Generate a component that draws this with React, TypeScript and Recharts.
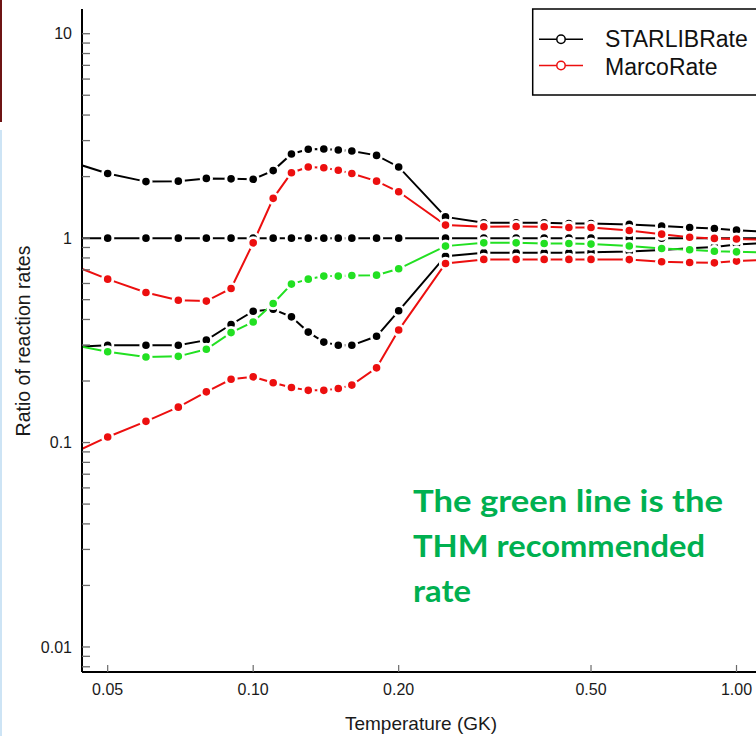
import React from "react";
import { LineChart, Line, XAxis, YAxis, Customized } from "recharts";

// Temperature grid (GK); first and last points lie just outside the visible window
const temps = [0.04, 0.05, 0.06, 0.07, 0.08, 0.09, 0.1, 0.11, 0.12, 0.13, 0.14, 0.15, 0.16, 0.18, 0.2, 0.25, 0.3, 0.35, 0.4, 0.45, 0.5, 0.6, 0.7, 0.8, 0.9, 1.0, 1.25];

const starlibHigh = [2.45, 2.07, 1.89, 1.9, 1.96, 1.95, 1.94, 2.14, 2.58, 2.72, 2.73, 2.7, 2.67, 2.54, 2.23, 1.27, 1.19, 1.19, 1.19, 1.18, 1.18, 1.167, 1.145, 1.128, 1.115, 1.094, 1.06];
const starlibMid = [1, 1, 1, 1, 1, 1, 1, 1, 1, 1, 1, 1, 1, 1, 1, 1, 1, 1, 1, 1, 1, 1, 1, 1, 1, 1, 1];
const starlibLow = [0.292, 0.299, 0.299, 0.299, 0.317, 0.378, 0.439, 0.449, 0.412, 0.347, 0.31, 0.299, 0.299, 0.331, 0.441, 0.816, 0.848, 0.848, 0.848, 0.848, 0.854, 0.86, 0.874, 0.893, 0.906, 0.93, 0.96];
const marcoHigh = [0.777, 0.63, 0.542, 0.497, 0.492, 0.567, 0.948, 1.565, 2.09, 2.23, 2.21, 2.15, 2.07, 1.9, 1.686, 1.158, 1.136, 1.14, 1.136, 1.128, 1.128, 1.09, 1.046, 1.01, 0.997, 0.99, 0.98];
const marcoLow = [0.0835, 0.1065, 0.127, 0.149, 0.177, 0.204, 0.2096, 0.196, 0.186, 0.18, 0.18, 0.1837, 0.191, 0.232, 0.355, 0.752, 0.787, 0.787, 0.787, 0.787, 0.787, 0.785, 0.766, 0.76, 0.757, 0.772, 0.79];
const thmRate = [0.308, 0.278, 0.262, 0.264, 0.286, 0.345, 0.389, 0.479, 0.596, 0.63, 0.652, 0.652, 0.657, 0.659, 0.708, 0.914, 0.948, 0.948, 0.942, 0.942, 0.935, 0.915, 0.89, 0.878, 0.862, 0.857, 0.85];

const xTicks = [0.05, 0.1, 0.2, 0.5, 1.0];
const xTickLabels = ["0.05", "0.10", "0.20", "0.50", "1.00"];
const yMajorTicks = [0.01, 0.1, 1, 10];
const yMajorLabels = ["0.01", "0.1", "1", "10"];
const yMinorTicks = [
  0.008, 0.009,
  0.02, 0.03, 0.04, 0.05, 0.06, 0.07, 0.08, 0.09,
  0.2, 0.3, 0.4, 0.5, 0.6, 0.7, 0.8, 0.9,
  2, 3, 4, 5, 6, 7, 8, 9,
];

const xDomain = [0.04424, 1.0973];
const yDomain = [0.007543, 13.21];

const rows = temps.map((T, i) => ({
  T,
  sHigh: starlibHigh[i],
  sMid: starlibMid[i],
  sLow: starlibLow[i],
  mHigh: marcoHigh[i],
  mLow: marcoLow[i],
  thm: thmRate[i],
}));

const FONT = "'Liberation Sans', Arial, Helvetica, sans-serif";
const BLACK = "#000000";
const RED = "#ec0f0f";
const GREEN = "#22e022";

const YTick = (props: any) => {
  const { x, y, payload } = props;
  const v = payload.value;
  const idx = yMajorTicks.findIndex((m) => Math.abs(m - v) < 1e-9);
  return (
    <g>
      <line x1={x} x2={x + 8} y1={y} y2={y} stroke="#6a6a6a" strokeWidth={1.3} />
      {idx >= 0 && (
        <text x={x - 10} y={y} dy="0.36em" textAnchor="end" fontSize={16} fontFamily={FONT} fill="#1a1a1a">
          {yMajorLabels[idx]}
        </text>
      )}
    </g>
  );
};

const XTick = (props: any) => {
  const { x, y, payload } = props;
  const idx = xTicks.findIndex((m) => Math.abs(m - payload.value) < 1e-9);
  return (
    <g>
      <line x1={x} x2={x} y1={y} y2={y - 7} stroke="#6a6a6a" strokeWidth={1.2} />
      <text x={x} y={y + 23} textAnchor="middle" fontSize={16} fontFamily={FONT} fill="#1a1a1a">
        {idx >= 0 ? xTickLabels[idx] : ""}
      </text>
    </g>
  );
};

const Decor = () => (
  <g>
    <text x={421} y={730} textAnchor="middle" fontSize={19} fontFamily={FONT} fill="#1a1a1a">
      Temperature (GK)
    </text>
    <text
      x={0}
      y={0}
      transform="translate(30,341) rotate(-90)"
      textAnchor="middle"
      fontSize={19.5}
      fontFamily={FONT}
      fill="#1a1a1a"
    >
      Ratio of reaction rates
    </text>
    {/* legend box */}
    <rect x={532.7} y={9} width={240} height={86} fill="#fff" stroke="#000" strokeWidth={1.5} />
    <line x1={539} x2={583} y1={39.3} y2={39.3} stroke={BLACK} strokeWidth={1.5} />
    <circle cx={561} cy={39.3} r={4.2} fill="#fff" stroke={BLACK} strokeWidth={1.5} />
    <text x={605} y={47} fontSize={23} fontFamily={FONT} fill="#111">STARLIBRate</text>
    <line x1={539} x2={583} y1={65.5} y2={65.5} stroke={RED} strokeWidth={1.5} />
    <circle cx={561} cy={65.5} r={4.2} fill="#fff" stroke={RED} strokeWidth={1.5} />
    <text x={605} y={75} fontSize={23} fontFamily={FONT} fill="#111">MarcoRate</text>
    {/* annotation */}
    <g fontFamily="Lato, 'DejaVu Sans', sans-serif" fontWeight={700} fontSize={30} fill="#00b050">
      <text x={413} y={512} textLength={310} lengthAdjust="spacingAndGlyphs">The green line is the</text>
      <text x={413} y={557} textLength={292} lengthAdjust="spacingAndGlyphs">THM recommended</text>
      <text x={413} y={602} textLength={58} lengthAdjust="spacingAndGlyphs">rate</text>
    </g>
  </g>
);

const dotStyle = (c: string) => ({ r: 5.2, fill: c, stroke: "#ffffff", strokeWidth: 2.8 });

export default function App() {
  return (
    <div style={{ position: "absolute", left: 0, top: 0, width: 756, height: 736, overflow: "hidden", background: "#fff" }}>
      <div style={{ position: "absolute", left: 0, top: 0, width: 2, height: 122, background: "#6e1414" }} />
      <div style={{ position: "absolute", left: 0, top: 130, width: 2, height: 606, background: "#cde4f5" }} />
      <LineChart
        width={756}
        height={736}
        data={rows}
        margin={{ top: 9, right: 0, left: 0, bottom: 0 }}
        style={{ fontFamily: FONT }}
      >
        <XAxis
          dataKey="T"
          type="number"
          scale="log"
          domain={xDomain}
          allowDataOverflow
          ticks={xTicks}
          interval={0}
          tickSize={0}
          tickMargin={0}
          tickLine={false}
          tick={XTick}
          axisLine={{ stroke: "#000", strokeWidth: 2 }}
          height={64}
        />
        <XAxis
          xAxisId="top"
          orientation="top"
          dataKey="T"
          type="number"
          scale="log"
          domain={xDomain}
          allowDataOverflow
          tick={false}
          tickLine={false}
          axisLine={{ stroke: "#000", strokeWidth: 1.5 }}
          height={0}
        />
        <YAxis
          type="number"
          scale="log"
          domain={yDomain}
          allowDataOverflow
          ticks={[...yMinorTicks, ...yMajorTicks].sort((a, b) => a - b)}
          interval={0}
          tickSize={0}
          tickMargin={0}
          tickLine={false}
          tick={YTick}
          axisLine={{ stroke: "#000", strokeWidth: 2 }}
          width={82}
        />
        <Line dataKey="sMid" stroke={BLACK} strokeWidth={2} dot={dotStyle(BLACK)} isAnimationActive={false} />
        <Line dataKey="sHigh" stroke={BLACK} strokeWidth={2} dot={dotStyle(BLACK)} isAnimationActive={false} />
        <Line dataKey="sLow" stroke={BLACK} strokeWidth={2} dot={dotStyle(BLACK)} isAnimationActive={false} />
        <Line dataKey="mHigh" stroke={RED} strokeWidth={2} dot={dotStyle(RED)} isAnimationActive={false} />
        <Line dataKey="mLow" stroke={RED} strokeWidth={2} dot={dotStyle(RED)} isAnimationActive={false} />
        <Line dataKey="thm" stroke={GREEN} strokeWidth={2} dot={dotStyle(GREEN)} isAnimationActive={false} />
        <Customized component={Decor} />
      </LineChart>
    </div>
  );
}
